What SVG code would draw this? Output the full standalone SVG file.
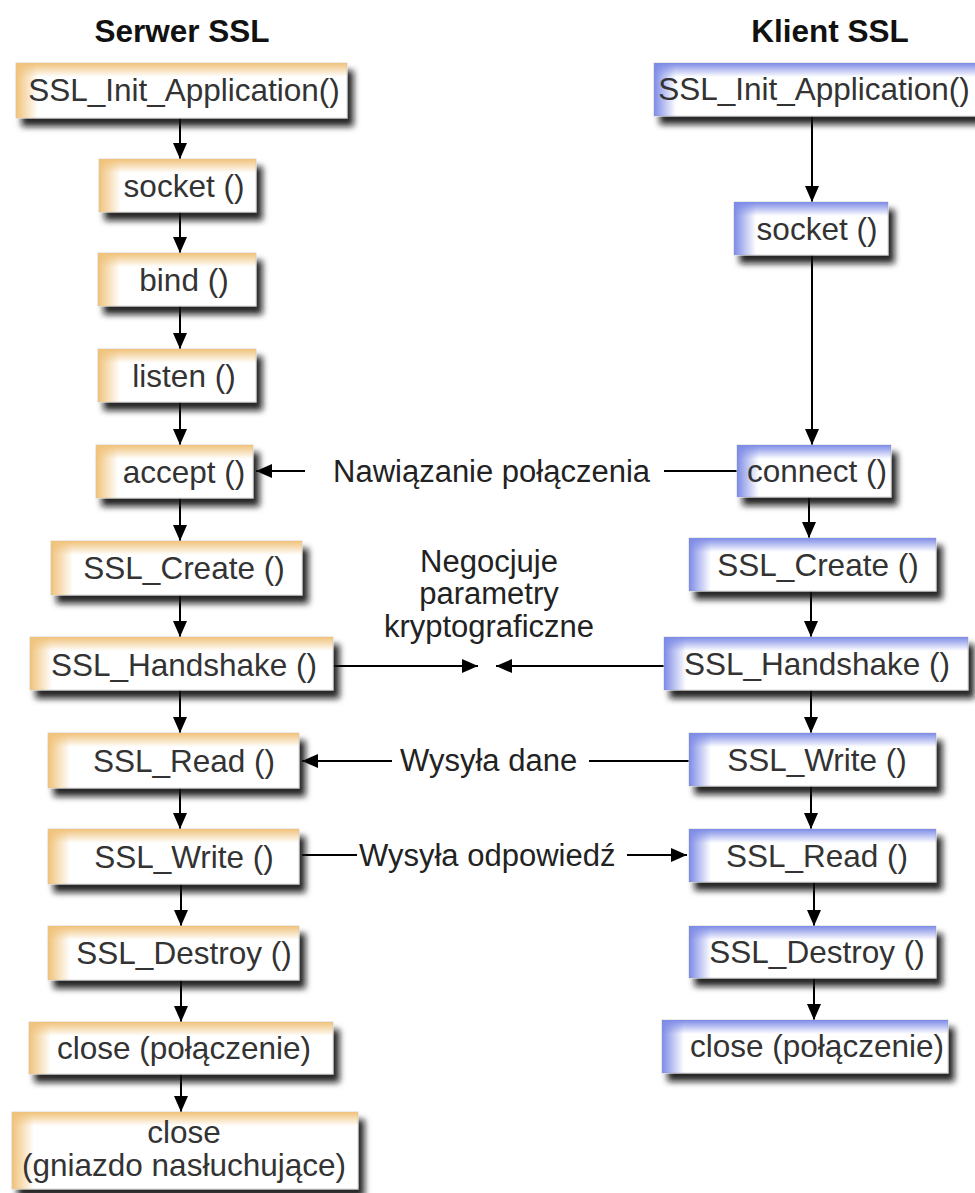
<svg xmlns="http://www.w3.org/2000/svg" width="975" height="1193" viewBox="0 0 975 1193">
  <defs>
    <filter id="shadow" x="-10%" y="-20%" width="130%" height="160%">
      <feGaussianBlur in="SourceAlpha" stdDeviation="3"/>
      <feOffset dx="6" dy="8" result="b"/>
      <feFlood flood-color="#111" flood-opacity="0.9"/>
      <feComposite in2="b" operator="in" result="s"/>
      <feMerge><feMergeNode in="s"/><feMergeNode in="SourceGraphic"/></feMerge>
    </filter>
    <linearGradient id="srvTop" x1="0" y1="0" x2="0" y2="1">
      <stop offset="0" stop-color="#f0c27a" stop-opacity="1"/>
      <stop offset="1" stop-color="#f0c27a" stop-opacity="0"/>
    </linearGradient>
    <linearGradient id="srvLeft" x1="0" y1="0" x2="1" y2="0">
      <stop offset="0" stop-color="#f0c27a" stop-opacity="1"/>
      <stop offset="1" stop-color="#f0c27a" stop-opacity="0"/>
    </linearGradient>
    <linearGradient id="cliTop" x1="0" y1="0" x2="0" y2="1">
      <stop offset="0" stop-color="#7d8be6" stop-opacity="1"/>
      <stop offset="1" stop-color="#7d8be6" stop-opacity="0"/>
    </linearGradient>
    <linearGradient id="cliLeft" x1="0" y1="0" x2="1" y2="0">
      <stop offset="0" stop-color="#7d8be6" stop-opacity="1"/>
      <stop offset="1" stop-color="#7d8be6" stop-opacity="0"/>
    </linearGradient>
    <marker id="arrow" viewBox="0 0 16 14" refX="16" refY="7" markerWidth="16" markerHeight="14" markerUnits="userSpaceOnUse" orient="auto">
      <path d="M0,0 L16,7 L0,14 Z" fill="#000"/>
    </marker>
    <style>
      .box { fill: #fff; stroke: #d8d8d8; stroke-width: 1; filter: url(#shadow); }
      .srv .top { fill: url(#srvTop); }
      .srv .left { fill: url(#srvLeft); }
      .cli .top { fill: url(#cliTop); }
      .cli .left { fill: url(#cliLeft); }
      text { font-family: "Liberation Sans", Arial, sans-serif; }
      .lbl { font-size: 31.5px; fill: #333; text-anchor: middle; }
      .note { font-size: 31px; fill: #222; }
      .title { font-size: 31.5px; font-weight: bold; fill: #111; text-anchor: middle; }
      .conn line { stroke: #000; stroke-width: 2; }
      .conn .arr { marker-end: url(#arrow); }
    </style>
  </defs>

  <rect width="975" height="1193" fill="#fff"/>

  <!-- column headings -->
  <text class="title" x="182" y="42">Serwer SSL</text>
  <text class="title" x="830" y="42">Klient SSL</text>

  <!-- connectors -->
  <g id="connectors" class="conn">
    <!-- server column -->
    <line class="arr" x1="180" y1="118" x2="180" y2="159"/>
    <line class="arr" x1="180" y1="212" x2="180" y2="253"/>
    <line class="arr" x1="180" y1="306" x2="180" y2="349"/>
    <line class="arr" x1="180" y1="402" x2="180" y2="445"/>
    <line class="arr" x1="180" y1="498" x2="180" y2="541"/>
    <line class="arr" x1="180" y1="595" x2="180" y2="637"/>
    <line class="arr" x1="180" y1="690" x2="180" y2="733"/>
    <line class="arr" x1="180" y1="788" x2="180" y2="829"/>
    <line class="arr" x1="181" y1="884" x2="181" y2="926"/>
    <line class="arr" x1="181" y1="980" x2="181" y2="1022"/>
    <line class="arr" x1="181" y1="1074" x2="181" y2="1112"/>
    <!-- client column -->
    <line class="arr" x1="812" y1="116" x2="812" y2="202"/>
    <line class="arr" x1="812" y1="255" x2="812" y2="445"/>
    <line class="arr" x1="809" y1="497" x2="809" y2="538"/>
    <line class="arr" x1="811" y1="591" x2="811" y2="637"/>
    <line class="arr" x1="811" y1="690" x2="811" y2="733"/>
    <line class="arr" x1="811" y1="786" x2="811" y2="829"/>
    <line class="arr" x1="814" y1="882" x2="814" y2="926"/>
    <line class="arr" x1="814" y1="978" x2="814" y2="1020"/>
    <!-- connect -> accept -->
    <line x1="737" y1="471" x2="664" y2="471"/>
    <line class="arr" x1="305" y1="471" x2="256" y2="471"/>
    <!-- handshake negotiation -->
    <line class="arr" x1="333" y1="666" x2="478" y2="666"/>
    <line class="arr" x1="664" y1="666" x2="496" y2="666"/>
    <!-- data -->
    <line x1="689" y1="761" x2="589" y2="761"/>
    <line class="arr" x1="392" y1="761" x2="302" y2="761"/>
    <!-- reply -->
    <line x1="302" y1="855" x2="357" y2="855"/>
    <line class="arr" x1="627" y1="855" x2="687" y2="855"/>
  </g>

  <!-- connector labels -->
  <text class="note" x="333" y="482">Nawiązanie połączenia</text>
  <text class="note" x="489" y="572" text-anchor="middle">Negocjuje</text>
  <text class="note" x="489" y="604" text-anchor="middle">parametry</text>
  <text class="note" x="489" y="637" text-anchor="middle">kryptograficzne</text>
  <text class="note" x="400" y="771">Wysyła dane</text>
  <text class="note" x="359" y="866">Wysyła odpowiedź</text>

  <!-- server nodes -->
  <g id="srv-init" class="srv">
    <rect class="box" x="16" y="63" width="331" height="55"/>
    <rect class="top" x="16" y="63" width="331" height="14"/>
    <rect class="left" x="16" y="63" width="22" height="55"/>
    <text class="lbl" x="184" y="101">SSL_Init_Application()</text>
  </g>
  <g id="srv-socket" class="srv">
    <rect class="box" x="99" y="159" width="157" height="53"/>
    <rect class="top" x="99" y="159" width="157" height="14"/>
    <rect class="left" x="99" y="159" width="22" height="53"/>
    <text class="lbl" x="184" y="197">socket ()</text>
  </g>
  <g id="srv-bind" class="srv">
    <rect class="box" x="98" y="253" width="158" height="53"/>
    <rect class="top" x="98" y="253" width="158" height="14"/>
    <rect class="left" x="98" y="253" width="22" height="53"/>
    <text class="lbl" x="184" y="291">bind ()</text>
  </g>
  <g id="srv-listen" class="srv">
    <rect class="box" x="98" y="349" width="158" height="53"/>
    <rect class="top" x="98" y="349" width="158" height="14"/>
    <rect class="left" x="98" y="349" width="22" height="53"/>
    <text class="lbl" x="184" y="387">listen ()</text>
  </g>
  <g id="srv-accept" class="srv">
    <rect class="box" x="96" y="445" width="157" height="53"/>
    <rect class="top" x="96" y="445" width="157" height="14"/>
    <rect class="left" x="96" y="445" width="22" height="53"/>
    <text class="lbl" x="184" y="483">accept ()</text>
  </g>
  <g id="srv-create" class="srv">
    <rect class="box" x="51" y="541" width="251" height="54"/>
    <rect class="top" x="51" y="541" width="251" height="14"/>
    <rect class="left" x="51" y="541" width="22" height="54"/>
    <text class="lbl" x="184" y="579">SSL_Create ()</text>
  </g>
  <g id="srv-handshake" class="srv">
    <rect class="box" x="30" y="637" width="303" height="53"/>
    <rect class="top" x="30" y="637" width="303" height="14"/>
    <rect class="left" x="30" y="637" width="22" height="53"/>
    <text class="lbl" x="184" y="676">SSL_Handshake ()</text>
  </g>
  <g id="srv-read" class="srv">
    <rect class="box" x="48" y="733" width="251" height="55"/>
    <rect class="top" x="48" y="733" width="251" height="14"/>
    <rect class="left" x="48" y="733" width="22" height="55"/>
    <text class="lbl" x="184" y="772">SSL_Read ()</text>
  </g>
  <g id="srv-write" class="srv">
    <rect class="box" x="48" y="829" width="251" height="55"/>
    <rect class="top" x="48" y="829" width="251" height="14"/>
    <rect class="left" x="48" y="829" width="22" height="55"/>
    <text class="lbl" x="184" y="868">SSL_Write ()</text>
  </g>
  <g id="srv-destroy" class="srv">
    <rect class="box" x="48" y="926" width="251" height="54"/>
    <rect class="top" x="48" y="926" width="251" height="14"/>
    <rect class="left" x="48" y="926" width="22" height="54"/>
    <text class="lbl" x="184" y="964">SSL_Destroy ()</text>
  </g>
  <g id="srv-close-conn" class="srv">
    <rect class="box" x="29" y="1022" width="304" height="52"/>
    <rect class="top" x="29" y="1022" width="304" height="14"/>
    <rect class="left" x="29" y="1022" width="22" height="52"/>
    <text class="lbl" x="184" y="1059">close (połączenie)</text>
  </g>
  <g id="srv-close-listen" class="srv">
    <rect class="box" x="12" y="1112" width="346" height="77"/>
    <rect class="top" x="12" y="1112" width="346" height="14"/>
    <rect class="left" x="12" y="1112" width="22" height="77"/>
    <text class="lbl" x="184" y="1143">close</text>
    <text class="lbl" x="184" y="1176">(gniazdo nasłuchujące)</text>
  </g>

  <!-- client nodes -->
  <g id="cli-init" class="cli">
    <rect class="box" x="654" y="63" width="326" height="53"/>
    <rect class="top" x="654" y="63" width="326" height="14"/>
    <rect class="left" x="654" y="63" width="22" height="53"/>
    <text class="lbl" x="814" y="100">SSL_Init_Application()</text>
  </g>
  <g id="cli-socket" class="cli">
    <rect class="box" x="734" y="202" width="154" height="53"/>
    <rect class="top" x="734" y="202" width="154" height="14"/>
    <rect class="left" x="734" y="202" width="22" height="53"/>
    <text class="lbl" x="817" y="240">socket ()</text>
  </g>
  <g id="cli-connect" class="cli">
    <rect class="box" x="737" y="445" width="154" height="52"/>
    <rect class="top" x="737" y="445" width="154" height="14"/>
    <rect class="left" x="737" y="445" width="22" height="52"/>
    <text class="lbl" x="817" y="482">connect ()</text>
  </g>
  <g id="cli-create" class="cli">
    <rect class="box" x="689" y="538" width="247" height="53"/>
    <rect class="top" x="689" y="538" width="247" height="14"/>
    <rect class="left" x="689" y="538" width="22" height="53"/>
    <text class="lbl" x="818" y="576">SSL_Create ()</text>
  </g>
  <g id="cli-handshake" class="cli">
    <rect class="box" x="664" y="637" width="304" height="53"/>
    <rect class="top" x="664" y="637" width="304" height="14"/>
    <rect class="left" x="664" y="637" width="22" height="53"/>
    <text class="lbl" x="817" y="675">SSL_Handshake ()</text>
  </g>
  <g id="cli-write" class="cli">
    <rect class="box" x="689" y="733" width="247" height="53"/>
    <rect class="top" x="689" y="733" width="247" height="14"/>
    <rect class="left" x="689" y="733" width="22" height="53"/>
    <text class="lbl" x="817" y="771">SSL_Write ()</text>
  </g>
  <g id="cli-read" class="cli">
    <rect class="box" x="689" y="829" width="247" height="53"/>
    <rect class="top" x="689" y="829" width="247" height="14"/>
    <rect class="left" x="689" y="829" width="22" height="53"/>
    <text class="lbl" x="817" y="867">SSL_Read ()</text>
  </g>
  <g id="cli-destroy" class="cli">
    <rect class="box" x="689" y="926" width="247" height="52"/>
    <rect class="top" x="689" y="926" width="247" height="14"/>
    <rect class="left" x="689" y="926" width="22" height="52"/>
    <text class="lbl" x="817" y="963">SSL_Destroy ()</text>
  </g>
  <g id="cli-close-conn" class="cli">
    <rect class="box" x="662" y="1020" width="286" height="53"/>
    <rect class="top" x="662" y="1020" width="286" height="14"/>
    <rect class="left" x="662" y="1020" width="22" height="53"/>
    <text class="lbl" x="817" y="1057">close (połączenie)</text>
  </g>
</svg>
